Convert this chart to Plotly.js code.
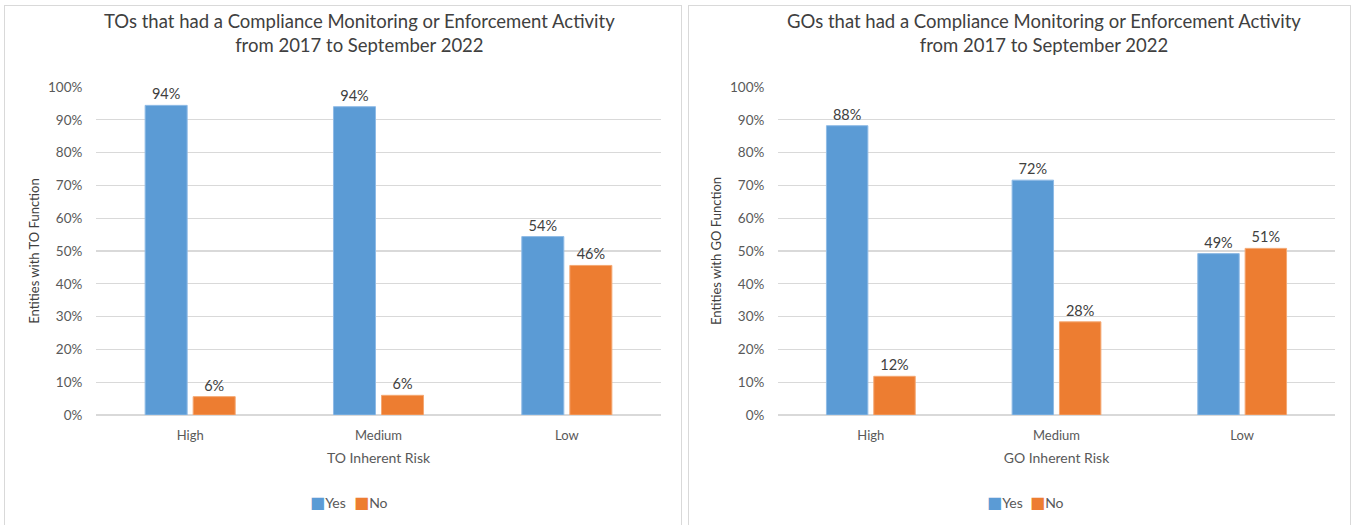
<!DOCTYPE html>
<html>
<head>
<meta charset="utf-8">
<script src="https://cdn.plot.ly/plotly-3.0.1.min.js"></script>
<style>
  html, body { margin: 0; padding: 0; background: #ffffff; width: 1352px; height: 525px; overflow: hidden; }
  .panel { position: absolute; border: 1px solid #d9d9d9; background: #fff; }
  #left { left: 4px; top: 5px; width: 676px; height: 519px; }
  #right { left: 688px; top: 5px; width: 661px; height: 519px; }
</style>
</head>
<body>
<div id="left" class="panel"></div>
<div id="right" class="panel"></div>
<script>
// ---- Data ----
const riskLevels = ["High", "Medium", "Low"];
const seriesNames = ["Yes", "No"];
const toYes = [94.4, 94.0, 54.4];
const toNo = [5.6, 6.0, 45.6];
const goYes = [88.2, 71.6, 49.2];
const goNo = [11.8, 28.4, 50.8];
const toTitle = "TOs that had a Compliance Monitoring or Enforcement Activity<br>from 2017 to September 2022";
const goTitle = "GOs that had a Compliance Monitoring or Enforcement Activity<br>from 2017 to September 2022";
const yTickVals = [0, 10, 20, 30, 40, 50, 60, 70, 80, 90, 100];
const yTickText = yTickVals.map(v => v + "%");

const BLUE = "#5b9bd5";
const ORANGE = "#ed7d31";
const COLORS = [BLUE, ORANGE];
const TXT = "#595959";
const FONT = "Lato, 'Open Sans', sans-serif";

function makeTraces(yes, no) {
  return [
    { type: "bar", name: seriesNames[0], x: riskLevels, y: yes,
      marker: { color: BLUE, line: { color: "#8fbbe6", width: 1 } },
      text: yes.map(v => Math.round(v) + "%"), textposition: "outside",
      textfont: { family: FONT, size: 14.5, color: "#404040" }, cliponaxis: false, hoverinfo: "skip" },
    { type: "bar", name: seriesNames[1], x: riskLevels, y: no,
      marker: { color: ORANGE, line: { color: "#f4a873", width: 1 } },
      text: no.map(v => Math.round(v) + "%"), textposition: "outside",
      textfont: { family: FONT, size: 14.5, color: "#404040" }, cliponaxis: false, hoverinfo: "skip" }
  ];
}

function legendItems(xs) {
  return seriesNames.map((n, i) => ({
    text: "<span style='color:" + COLORS[i] + ";font-family:DejaVu Sans;font-size:16px'>■</span>" + n,
    x: xs[i], xref: "paper", xanchor: "left", y: -0.268, yref: "paper", yanchor: "middle",
    showarrow: false, font: { family: FONT, size: 14, color: TXT }
  }));
}

function makeLayout(title, titleX, legendXs, xTitle, yTitle, w, h, m) {
  return {
    width: w, height: h,
    margin: m,
    paper_bgcolor: "#ffffff", plot_bgcolor: "#ffffff",
    font: { family: FONT, color: TXT, size: 13 },
    barmode: "group", bargap: 0.49, bargroupgap: 0.125,
    showlegend: false,
    annotations: [
      { text: title, x: titleX, xref: "paper", xanchor: "center", y: 1.165, yref: "paper", yanchor: "middle",
        showarrow: false, font: { family: FONT, size: 18.5, color: "#404040" } }
    ].concat(legendItems(legendXs)),
    xaxis: { type: "category", showgrid: false, showline: false, zeroline: false, ticks: "outside", ticklen: 8,
             tickcolor: "rgba(0,0,0,0)", tickfont: { family: FONT, size: 13, color: TXT },
             title: { text: xTitle, standoff: 11, font: { family: FONT, size: 14, color: TXT } } },
    yaxis: { range: [0, 100], tickvals: yTickVals, ticktext: yTickText, showgrid: true, gridcolor: "#d9d9d9", gridwidth: 1.2,
             zeroline: true, zerolinecolor: "#d9d9d9", zerolinewidth: 1.5, showline: false,
             ticks: "outside", ticklen: 10, tickcolor: "rgba(0,0,0,0)", tickfont: { family: FONT, size: 13.5, color: TXT },
             title: { text: yTitle, standoff: 5, font: { family: FONT, size: 13, color: "#404040" } }, fixedrange: true },
    hovermode: false
  };
}

Plotly.newPlot("left", makeTraces(toYes, toNo),
  makeLayout(toTitle, 0.467, [0.375, 0.453], "TO Inherent Risk", "Entities with TO Function", 676, 519, { l: 91, r: 20, t: 81, b: 110 }),
  { displayModeBar: false, staticPlot: true });
Plotly.newPlot("right", makeTraces(goYes, goNo),
  makeLayout(goTitle, 0.478, [0.371, 0.448], "GO Inherent Risk", "Entities with GO Function", 661, 519, { l: 89, r: 15, t: 81, b: 110 }),
  { displayModeBar: false, staticPlot: true });
</script>
</body>
</html>
